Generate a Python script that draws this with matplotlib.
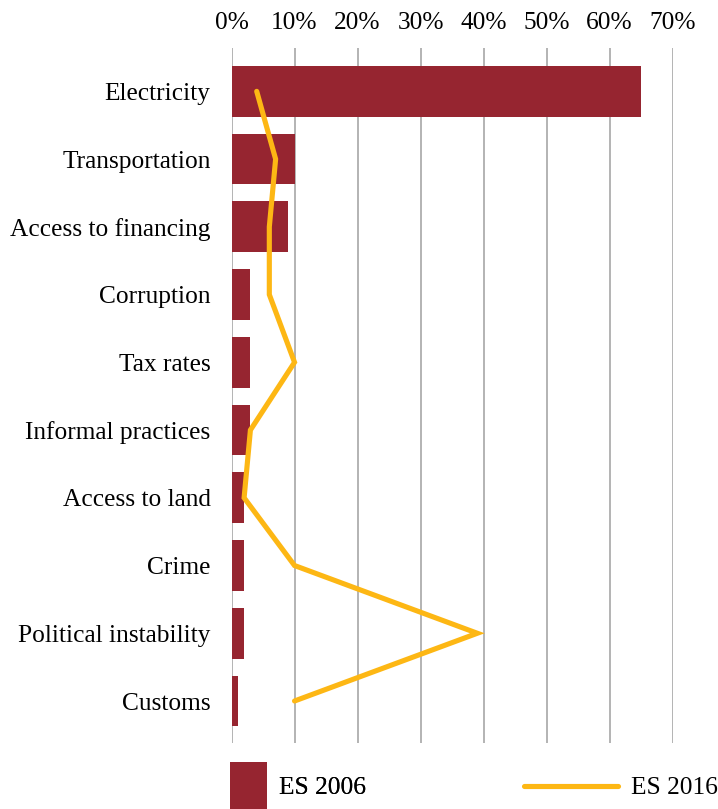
import matplotlib.pyplot as plt
from matplotlib.patches import Patch
from matplotlib.lines import Line2D
from matplotlib.ticker import PercentFormatter

# data
categories = ['Electricity', 'Transportation', 'Access to financing', 'Corruption',
              'Tax rates', 'Informal practices', 'Access to land', 'Crime',
              'Political instability', 'Customs']
es_2006 = [65, 10, 9, 3, 3, 3, 2, 2, 2, 1]
es_2016 = [4, 7, 6, 6, 10, 3, 2, 10, 39, 10]
x_ticks = [0, 10, 20, 30, 40, 50, 60, 70]

red = '#962530'
gold = '#FDB714'
fs = 18.3

plt.rcParams['font.family'] = ['Liberation Serif', 'DejaVu Serif']

fig = plt.figure(figsize=(7.18, 8.09), dpi=100)
ax = fig.add_axes([231.5 / 718, 1 - 743 / 809, (672.7 - 231.5) / 718, (743 - 48) / 809])

ypos = list(range(len(categories)))
ax.barh(ypos, es_2006, height=0.75, color=red, zorder=2)
ax.plot(es_2016, ypos, color=gold, lw=3.7, solid_capstyle='round',
        solid_joinstyle='miter', zorder=3)

ax.set_xlim(0, 70)
ax.set_ylim(9.62, -0.64)
ax.set_xticks(x_ticks)
ax.xaxis.set_major_formatter(PercentFormatter(decimals=0))
ax.xaxis.tick_top()
ax.set_yticks(ypos)
ax.set_yticklabels(categories)
ax.tick_params(axis='x', length=0, pad=10, labelsize=fs)
ax.tick_params(axis='y', length=0, pad=15, labelsize=fs)
ax.grid(axis='x', color='#b3b3b3', lw=1.4, zorder=0)
for s in ax.spines.values():
    s.set_visible(False)

# legend, one entry per series
bar_leg = fig.legend(handles=[Patch(facecolor=red, lw=0, label='ES 2006')],
                     loc='center left', bbox_to_anchor=(230 / 718, 1 - 786 / 809),
                     frameon=False, fontsize=fs, borderpad=0, borderaxespad=0,
                     handlelength=1.45, handleheight=2.55, handletextpad=0.48)
fig.add_artist(bar_leg)
fig.legend(handles=[Line2D([], [], color=gold, lw=3.7, solid_capstyle='round',
                           label='ES 2016')],
           loc='center left', bbox_to_anchor=(524 / 718, 1 - 788 / 809),
           frameon=False, fontsize=fs, borderpad=0, borderaxespad=0,
           handlelength=3.7, handletextpad=0.5)

fig.savefig('out.png', dpi=100)
